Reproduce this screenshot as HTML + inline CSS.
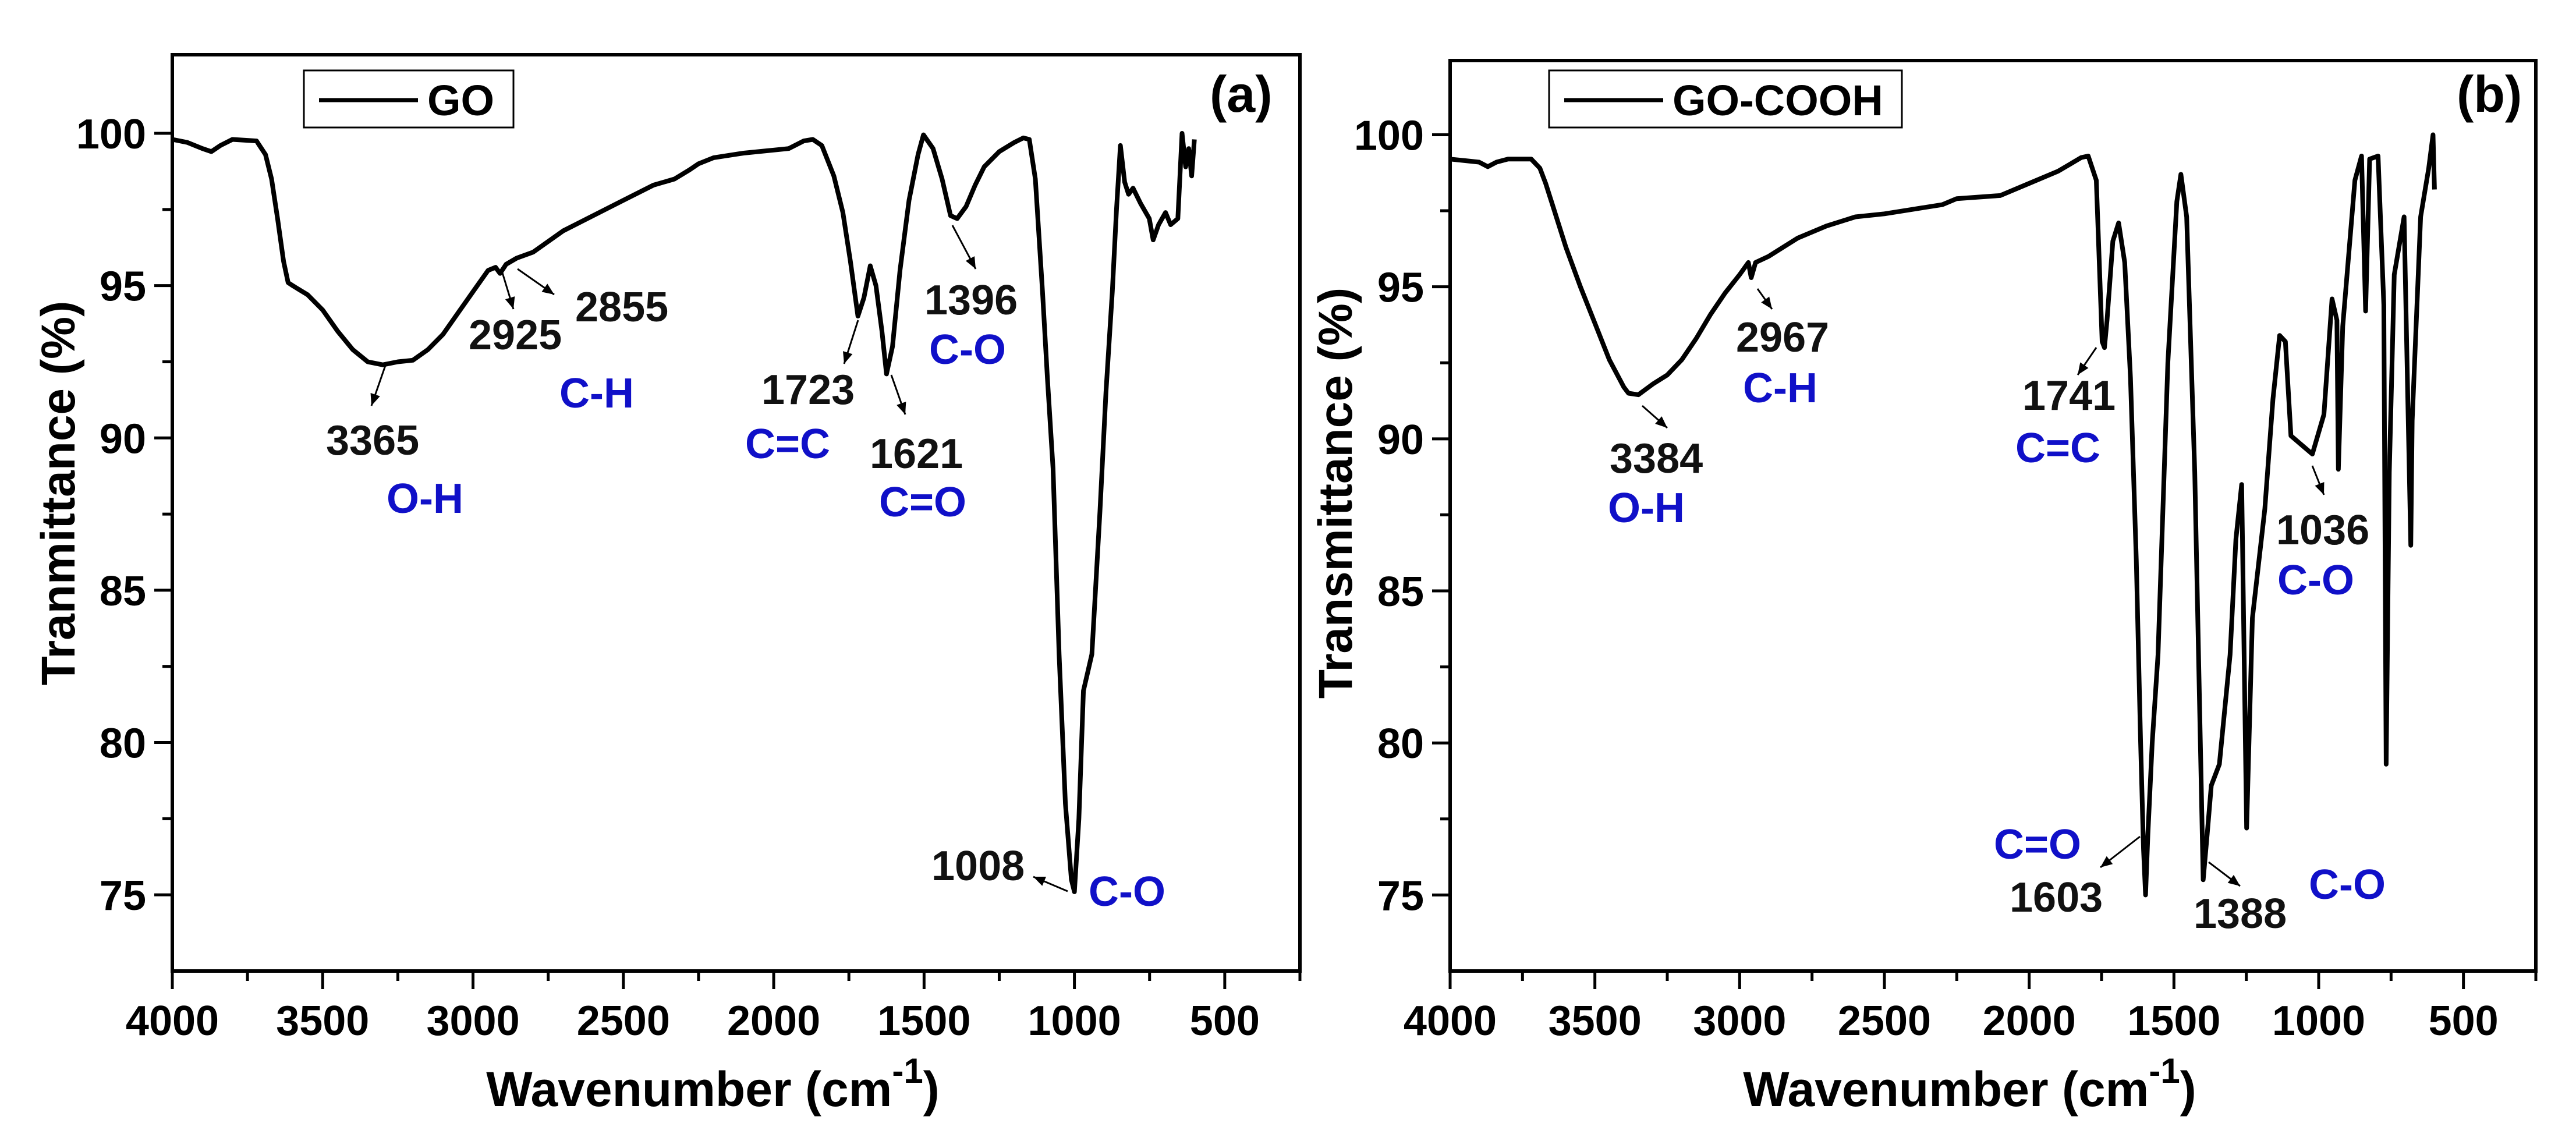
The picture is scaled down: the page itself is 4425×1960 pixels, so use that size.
<!DOCTYPE html>
<html><head><meta charset="utf-8"><style>
html,body{margin:0;padding:0;background:#fff;}
svg{display:block;font-family:"Liberation Sans",Arial,sans-serif;font-weight:bold;}
</style></head><body>
<svg id="chart" width="4425" height="1960" viewBox="0 0 4425 1960" xmlns="http://www.w3.org/2000/svg">
<rect x="0" y="0" width="4425" height="1960" fill="#fff"/>
<g id="pa"></g>
<g id="pb"></g>
</svg>
<script>
const xTickValues = [4000,3500,3000,2500,2000,1500,1000,500];
const xTickLabels = ["4000","3500","3000","2500","2000","1500","1000","500"];
const yTickValues = [75,80,85,90,95,100];
const yTickLabels = ["75","80","85","90","95","100"];
const goWn = [4000,3950,3900,3870,3840,3800,3720,3690,3670,3650,3630,3615,3600,3550,3500,3450,3400,3350,3300,3250,3200,3150,3100,3050,3000,2950,2925,2910,2890,2855,2800,2700,2600,2500,2400,2330,2280,2250,2200,2100,2000,1950,1900,1870,1840,1800,1770,1745,1720,1700,1679,1660,1640,1625,1605,1580,1550,1520,1502,1470,1440,1412,1390,1360,1330,1300,1250,1200,1170,1150,1130,1106,1090,1071,1051,1030,1010,1000,985,970,942,915,895,874,860,847,833,820,805,780,751,738,720,697,680,656,642,630,620,610,601];
const goT = [99.8,99.7,99.5,99.4,99.6,99.8,99.75,99.3,98.5,97.2,95.8,95.1,95.0,94.7,94.2,93.5,92.9,92.5,92.4,92.5,92.55,92.9,93.4,94.1,94.8,95.5,95.6,95.4,95.7,95.9,96.1,96.8,97.3,97.8,98.3,98.5,98.8,99.0,99.2,99.35,99.45,99.5,99.75,99.8,99.6,98.6,97.4,95.8,94.0,94.6,95.65,95.0,93.5,92.1,93.0,95.5,97.8,99.3,99.95,99.5,98.5,97.3,97.2,97.6,98.3,98.9,99.4,99.7,99.85,99.8,98.5,94.8,92.0,89.0,82.9,78.0,75.5,75.1,77.5,81.7,82.9,87.6,91.5,94.8,97.5,99.6,98.4,98.0,98.2,97.7,97.2,96.5,97.0,97.4,97.0,97.2,100.0,98.9,99.5,98.6,99.8];
const coohWn = [4000,3950,3900,3870,3840,3800,3720,3690,3670,3650,3600,3550,3500,3450,3400,3384,3350,3300,3250,3200,3150,3100,3050,3000,2970,2960,2945,2900,2850,2800,2700,2600,2500,2400,2300,2250,2100,2000,1900,1820,1796,1768,1748,1740,1731,1711,1691,1670,1650,1630,1615,1605,1598,1590,1575,1555,1521,1490,1476,1456,1428,1399,1385,1371,1343,1306,1286,1266,1249,1229,1186,1158,1135,1115,1096,1059,1022,982,954,937,932,917,875,852,838,824,795,775,767,756,739,705,682,677,648,620,605,600];
const coohT = [99.2,99.15,99.1,98.95,99.1,99.2,99.2,98.9,98.4,97.8,96.3,95.0,93.8,92.6,91.7,91.5,91.45,91.8,92.1,92.6,93.3,94.1,94.8,95.4,95.8,95.3,95.8,96.0,96.3,96.6,97.0,97.3,97.4,97.55,97.7,97.9,98.0,98.4,98.8,99.25,99.3,98.5,93.2,93.0,93.9,96.5,97.1,95.8,92.0,86.0,80.0,76.5,75.0,77.0,80.0,82.9,92.5,97.8,98.7,97.3,88.9,75.5,77.0,78.6,79.3,82.9,86.7,88.5,77.2,84.1,87.7,91.3,93.4,93.2,90.1,89.8,89.5,90.8,94.6,93.9,89.0,93.7,98.5,99.3,94.2,99.2,99.3,94.4,79.3,88.9,95.4,97.3,86.5,90.6,97.3,98.9,100.0,98.2];

const NS = "http://www.w3.org/2000/svg";
function mk(parent, tag, attrs, text){
  const el = document.createElementNS(NS, tag);
  for (const k in attrs) el.setAttribute(k, attrs[k]);
  if (text !== undefined) el.textContent = text;
  parent.appendChild(el);
  return el;
}

function drawPanel(g, cfg){
  const L=cfg.left, R=cfg.right, T=cfg.top, B=cfg.bottom;
  const xs = v => L + (4000 - v) / (4000 - 250) * (R - L);
  const ys = v => B - (v - 72.5) / (cfg.ymax - 72.5) * (B - T);
  const fr = mk(g,'rect',{x:L,y:T,width:R-L,height:B-T,fill:'none',stroke:'#000','stroke-width':6});
  
  
  for (let v=3750; v>=250; v-=500){
    const t = mk(g,'line',{x1:xs(v),x2:xs(v),y1:B,y2:B+17,stroke:'#000','stroke-width':5});
    
    
  }
  xTickValues.forEach((v,i)=>{
    const t = mk(g,'line',{x1:xs(v),x2:xs(v),y1:B,y2:B+31,stroke:'#000','stroke-width':5});
    
    
    const lb = mk(g,'text',{x:xs(v),y:B+110,'text-anchor':'middle','font-size':72,fill:'#000'},xTickLabels[i]);
    
    
  });
  for (let v=77.5; v<=100; v+=5){
    const t = mk(g,'line',{x1:L-17,x2:L,y1:ys(v),y2:ys(v),stroke:'#000','stroke-width':5});
    
    
  }
  yTickValues.forEach((v,i)=>{
    const t = mk(g,'line',{x1:L-31,x2:L,y1:ys(v),y2:ys(v),stroke:'#000','stroke-width':5});
    
    
    const lb = mk(g,'text',{x:L-45,y:ys(v)+26,'text-anchor':'end','font-size':72,fill:'#000'},yTickLabels[i]);
    
    
  });
  const xt = mk(g,'text',{x:(L+R)/2-40,y:1900,'text-anchor':'middle','font-size':84,fill:'#000'});
  
  
  mk(xt,'tspan',{},'Wavenumber (cm');
  mk(xt,'tspan',{dy:-40,'font-size':60},'-1');
  mk(xt,'tspan',{dy:40},')');
  const yt = mk(g,'text',{x:0,y:0,'text-anchor':'middle','font-size':82,fill:'#000',transform:'translate('+cfg.ytx+',847) rotate(-90)'},cfg.ytitle);
  
  
  let d='';
  cfg.wn.forEach((w,i)=>{ d += (i?'L':'M') + xs(w).toFixed(1) + ',' + ys(cfg.t[i]).toFixed(1); });
  const p = mk(g,'path',{d:d,fill:'none',stroke:'#000','stroke-width':8,'stroke-linejoin':'round'});
  
  
  const lg = mk(g,'g',{});
  
  
  mk(lg,'rect',{x:cfg.lg[0],y:121,width:cfg.lg[1]-cfg.lg[0],height:98,fill:'#fff',stroke:'#000','stroke-width':3});
  mk(lg,'line',{x1:cfg.lg[0]+26,x2:cfg.lg[0]+196,y1:172,y2:172,stroke:'#000','stroke-width':7});
  mk(lg,'text',{x:cfg.lg[0]+212,y:198,'font-size':74,fill:'#000'},cfg.legend);
  const pl = mk(g,'text',{x:cfg.plx,y:192,'font-size':88,fill:'#000'},cfg.panelLabel);
  
  
  cfg.ann.forEach(a=>{
    const tx = mk(g,'text',{x:a[1],y:a[2],'font-size':72,fill:a[3]?'#1010c8':'#111'},a[0]);
    
    
  });
  cfg.arrows.forEach(a=>{
    const ln = mk(g,'line',{x1:a[0],y1:a[1],x2:a[2],y2:a[3],stroke:'#000','stroke-width':3});
    
    
    const ang=Math.atan2(a[3]-a[1],a[2]-a[0]), s=22, w=0.4;
    const p1=[a[2]-s*Math.cos(ang-w),a[3]-s*Math.sin(ang-w)], p2=[a[2]-s*Math.cos(ang+w),a[3]-s*Math.sin(ang+w)];
    const hd = mk(g,'polygon',{points:a[2]+','+a[3]+' '+p1.join(',')+' '+p2.join(','),fill:'#000'});
    
    
  });
}

drawPanel(document.getElementById('pa'),{
  left:296,right:2233,top:94,bottom:1668,ymax:102.58,ytx:128,ytitle:'Tranmittance (%)',
  wn:goWn,t:goT,seriesName:'go-spectrum',legend:'GO',lg:[522,882],plx:2078,panelLabel:'(a)',
  ann:[['3365',560,781,0],['O-H',664,881,1],['2925',805,600,0],['2855',988,552,0],['C-H',961,700,1],
       ['1723',1308,694,0],['C=C',1280,787,1],['1621',1494,804,0],['C=O',1510,887,1],
       ['1396',1588,540,0],['C-O',1596,625,1],['1008',1600,1512,0],['C-O',1870,1556,1]],
  arrows:[[663,625,638,697],[861,462,882,531],[889,462,952,506],[1474,550,1450,625],
          [1531,644,1555,712],[1636,387,1676,462],[1834,1531,1775,1506]]
});
drawPanel(document.getElementById('pb'),{
  left:2491,right:4356,top:104,bottom:1668,ymax:102.44,ytx:2322,ytitle:'Transmittance (%)',
  wn:coohWn,t:coohT,seriesName:'go-cooh-spectrum',legend:'GO-COOH',lg:[2661,3267],plx:4220,panelLabel:'(b)',
  ann:[['3384',2765,812,0],['O-H',2762,897,1],['2967',2982,604,0],['C-H',2994,691,1],
       ['1741',3474,704,0],['C=C',3462,794,1],['C=O',3425,1475,1],['1603',3452,1566,0],
       ['1388',3768,1594,0],['C-O',3966,1544,1],['1036',3910,935,0],['C-O',3912,1021,1]],
  arrows:[[2821,697,2864,735],[3019,496,3044,531],[3601,597,3569,644],[3676,1437,3608,1490],
          [3794,1481,3848,1522],[3972,800,3992,850]]
});
</script>
</body></html>
